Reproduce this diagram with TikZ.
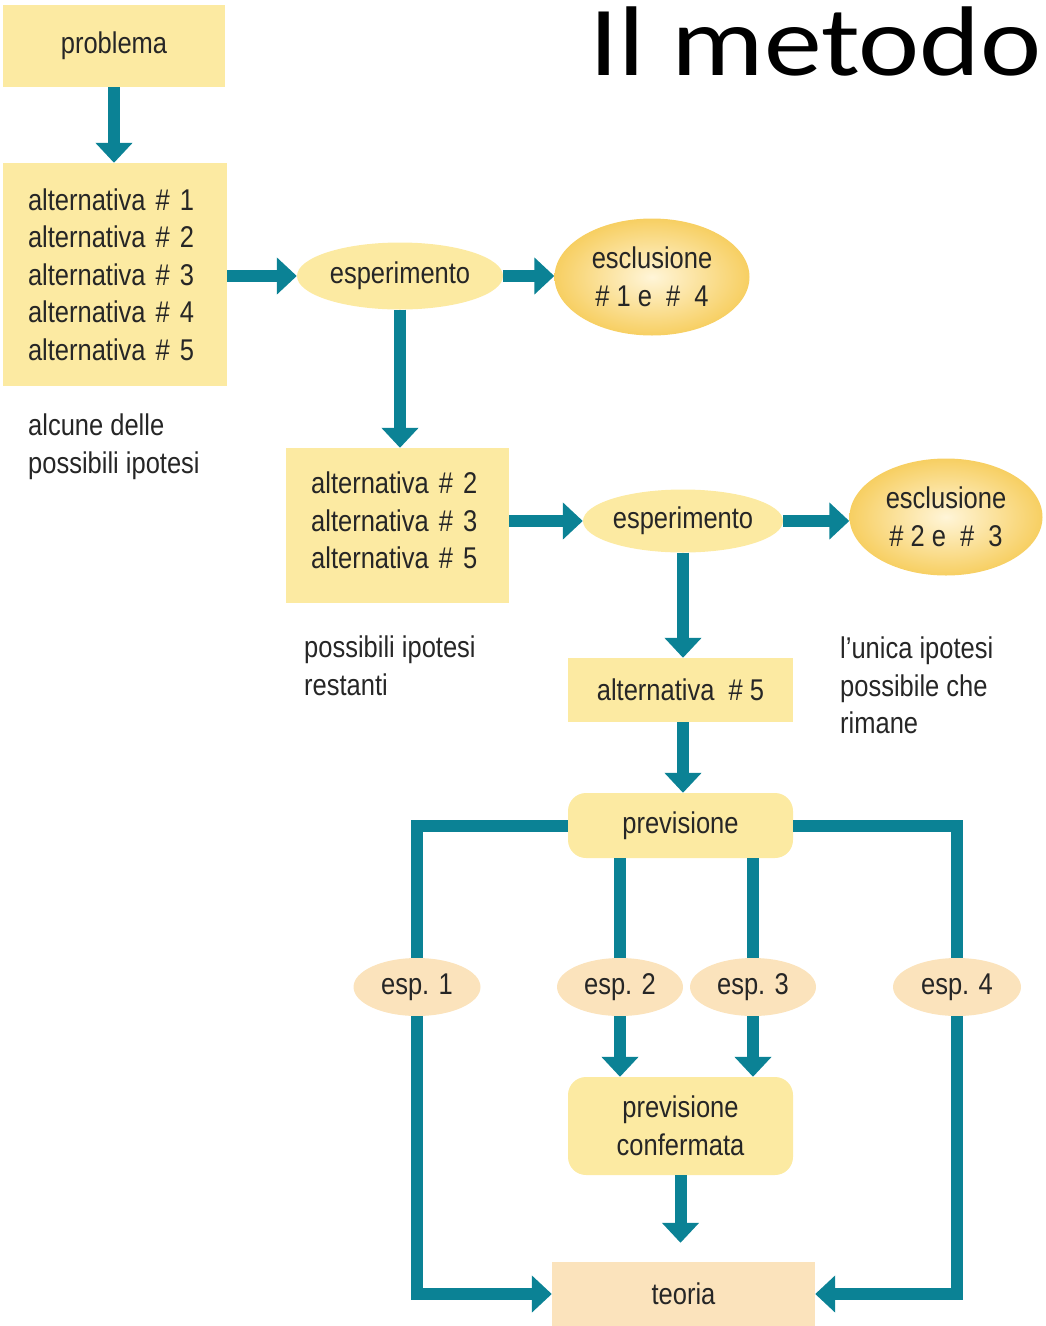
\documentclass[tikz,border=0pt]{standalone}
\usepackage{fontspec}
\setmainfont{Liberation Sans}[FakeStretch=0.85]
\newfontfamily\titlefont{Carlito}[FakeStretch=1.17]
\usetikzlibrary{arrows.meta,shapes.geometric,calc}
\definecolor{arrowc}{HTML}{0B8295}
\definecolor{boxy}{HTML}{FCEAA2}
\definecolor{peach}{HTML}{FBE3BC}
\definecolor{exin}{HTML}{FFF5D8}
\definecolor{exout}{HTML}{F7CF62}
\definecolor{txt}{HTML}{262626}
\begin{document}
\begin{tikzpicture}[x=1pt,y=-1pt,
  lbl/.style={font=\fontsize{30}{37.5}\selectfont, text=txt, inner sep=0pt},
  ybox/.style={lbl, fill=boxy, draw=none, rectangle},
  rbox/.style={ybox, rounded corners=18pt},
  yell/.style={lbl, ellipse, fill=boxy, draw=none},
  pell/.style={lbl, ellipse, fill=peach, draw=none},
  xell/.style={lbl, ellipse, draw=none, inner color=exin, outer color=exout},
  con/.style={draw=arrowc, line width=12pt},
  arr/.style={con, -{Triangle[width=36pt,length=20pt]}},
  free/.style={lbl, align=left, anchor=north west}
]
\useasboundingbox (0,0) rectangle (1046,1326);

\node[anchor=base east, font=\titlefont\fontsize{99}{99}\selectfont, inner sep=0pt] (title) at (1042,75) {Il metodo};

\node[ybox, minimum width=222pt, minimum height=82pt] (prob) at (114,46) {problema};
\node[ybox, align=left, text width=174pt, inner xsep=25pt, minimum height=223pt] (alt1) at (115,274.5)
  {alternativa \# 1\\alternativa \# 2\\alternativa \# 3\\alternativa \# 4\\alternativa \# 5};
\node[free] (note1) at (28,414) {alcune delle\\possibili ipotesi};

\node[yell, minimum width=206pt, minimum height=67pt] (e1) at (400,276) {esperimento};
\node[xell, minimum width=195pt, minimum height=117pt, align=center] (x1) at (652,277) {esclusione\\\# 1 e \ \# \ 4};

\node[ybox, minimum width=223pt, minimum height=155pt] (alt2) at (397.5,525.5) {};
\node[lbl, align=left, text width=174pt, anchor=north west] (alt2t) at (311,472)
  {alternativa \# 2\\alternativa \# 3\\alternativa \# 5};
\node[free] (note2) at (304,636) {possibili ipotesi\\restanti};

\node[yell, minimum width=200pt, minimum height=63pt] (e2) at (683,521) {esperimento};
\node[xell, minimum width=193pt, minimum height=117pt, align=center] (x2) at (946,517) {esclusione\\\# 2 e \ \# \ 3};

\node[ybox, minimum width=225pt, minimum height=64pt] (alt5) at (680.5,690) {alternativa \ \# 5};
\node[free] (note3) at (840,637) {l’unica ipotesi\\possibile che\\rimane};

\node[rbox, minimum width=225pt, minimum height=65pt] (prev) at (680.5,825.5) {previsione};

\node[pell, minimum width=127pt, minimum height=58pt] (s1) at (417,987) {esp. 1};
\node[pell, minimum width=126pt, minimum height=58pt] (s2) at (620,987) {esp. 2};
\node[pell, minimum width=126pt, minimum height=58pt] (s3) at (753,987) {esp. 3};
\node[pell, minimum width=128pt, minimum height=58pt] (s4) at (957,987) {esp. 4};

\node[rbox, align=center, minimum width=225pt, minimum height=98pt] (pc) at (680.5,1126) {previsione\\confermata};
\node[ybox, fill=peach, minimum width=263pt, minimum height=64pt] (teo) at (683.5,1294) {teoria};

% connectors
\draw[arr] (prob.south) -- (prob.south |- alt1.north);
\draw[arr] (alt1.east |- e1.west) -- (e1.west);
\draw[arr] (e1.east) -- (e1.east -| x1.west);
\draw[arr] (e1.south) -- (e1.south |- alt2.north);
\draw[arr] (alt2.east |- e2.west) -- (e2.west);
\draw[arr] (e2.east) -- (e2.east -| x2.west);
\draw[arr] (e2.south) -- (e2.south |- alt5.north);
\draw[arr] (alt5.south -| e2.south) -- (prev.north -| e2.south);

\draw[con] (prev.west) -| (s1.north);
\draw[arr] (s1.south) |- (teo.west);
\draw[con] (prev.east) -| (s4.north);
\draw[arr] (s4.south) |- (teo.east);

\draw[con] (s2.north |- prev.south) -- (s2.north);
\draw[arr] (s2.south) -- (s2.south |- pc.north);
\draw[con] (s3.north |- prev.south) -- (s3.north);
\draw[arr] (s3.south) -- (s3.south |- pc.north);

\draw[arr, shorten >=19pt] (pc.south) -- (pc.south |- teo.north);
\end{tikzpicture}
\end{document}
